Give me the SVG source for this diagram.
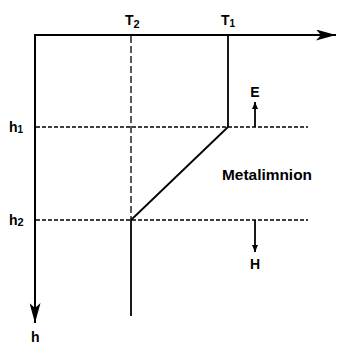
<svg xmlns="http://www.w3.org/2000/svg" width="346" height="345" viewBox="0 0 346 345">
<style>
.ax{stroke:#000;stroke-width:2;fill:none}
.ln{stroke:#000;stroke-width:1.8;fill:none}
.dsh{stroke:#000;stroke-width:1.3;fill:none;stroke-dasharray:7,3}
.dot{stroke:#000;stroke-width:1.3;fill:none;stroke-dasharray:4,2}
.t{font-family:"Liberation Sans",Arial,sans-serif;font-weight:bold;fill:#000}
</style>
<defs>
<marker id="bigh" markerWidth="20" markerHeight="11" refX="20" refY="5.5" orient="auto" markerUnits="userSpaceOnUse" viewBox="0 0 20 11">
<path d="M0,0 L20,5.5 L0,11 L5,5.5 Z" fill="#000"/>
</marker>
<marker id="sm" markerWidth="7" markerHeight="6" refX="7" refY="3" orient="auto" markerUnits="userSpaceOnUse" viewBox="0 0 7 6">
<path d="M0,0 L7,3 L0,6 Z" fill="#000"/>
</marker>
</defs>
<g id="connectors">
<line class="ax" x1="35" y1="35" x2="336" y2="35" marker-end="url(#bigh)"/>
<line class="ax" x1="35" y1="34" x2="35" y2="323" marker-end="url(#bigh)"/>
<line class="dot" x1="36" y1="127" x2="308" y2="127"/>
<line class="dot" x1="36" y1="220" x2="308" y2="220"/>
<line class="dsh" x1="131" y1="36" x2="131" y2="220"/>
<line class="ln" x1="131" y1="220" x2="131" y2="316"/>
<line class="ln" x1="228" y1="35" x2="228" y2="127"/>
<line class="ln" x1="228" y1="127" x2="131" y2="220"/>
<line class="ln" x1="255" y1="127" x2="255" y2="102" stroke-width="1.3" marker-end="url(#sm)"/>
<line class="ln" x1="255" y1="220" x2="255" y2="252" stroke-width="1.3" marker-end="url(#sm)"/>
</g>
<g id="T2"><text class="t" x="125" y="25" font-size="14">T<tspan font-size="11" dy="3">2</tspan></text></g>
<g id="T1"><text class="t" x="221" y="25" font-size="14">T<tspan font-size="10" dy="2">1</tspan></text></g>
<g id="h1"><text class="t" x="9" y="132" font-size="14">h<tspan font-size="10" dy="1">1</tspan></text></g>
<g id="h2"><text class="t" x="9" y="225" font-size="14">h<tspan font-size="11" dy="1">2</tspan></text></g>
<g id="h"><text class="t" x="31" y="342" font-size="14">h</text></g>
<g id="E"><text class="t" x="255" y="97" font-size="14" text-anchor="middle">E</text></g>
<g id="H"><text class="t" x="255" y="269" font-size="14" text-anchor="middle">H</text></g>
<g id="Metalimnion"><text class="t" x="222" y="180" font-size="14" textLength="90" lengthAdjust="spacingAndGlyphs">Metalimnion</text></g>
</svg>
